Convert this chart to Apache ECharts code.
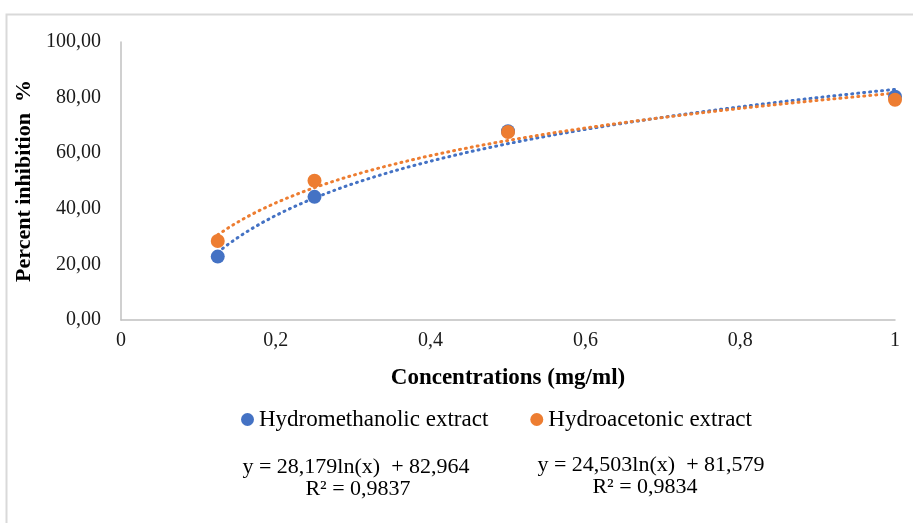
<!DOCTYPE html>
<html>
<head>
<meta charset="utf-8">
<script src="https://cdn.jsdelivr.net/npm/echarts@6/dist/echarts.min.js"></script>
<style>
  html, body { margin: 0; padding: 0; background: #fff; }
  #main { width: 913px; height: 523px; }
</style>
</head>
<body>
<div id="main"></div>
<script>
// concentrations (mg/ml)
var concentrations = [0.125, 0.25, 0.5, 1];
var hydromethanolic = [22.8, 44.3, 67.9, 80.3];
var hydroacetonic = [28.4, 50.1, 67.6, 79.2];

// log trendline coefficients printed under the chart: y = a*ln(x) + b
var trendA = [28.179, 24.503];
var trendB = [82.964, 81.579];
var equations = ['y = 28,179ln(x)  + 82,964', 'y = 24,503ln(x)  + 81,579'];
var rSquared = ['R² = 0,9837', 'R² = 0,9834'];

var seriesNames = ['Hydromethanolic extract', 'Hydroacetonic extract'];
var colors = ['#4472C4', '#ED7D31'];

function trendPoints(a, b) {
    var pts = [];
    var x0 = concentrations[0], x1 = concentrations[concentrations.length - 1];
    for (var i = 0; i <= 60; i++) {
        var x = x0 + (x1 - x0) * i / 60;
        pts.push([x, a * Math.log(x) + b]);
    }
    return pts;
}

function pairs(ys) {
    return concentrations.map(function (x, i) { return [x, ys[i]]; });
}

var myChart = echarts.init(document.getElementById('main'));

var serifFont = '"Liberation Serif", "Times New Roman", serif';

var option = {
    animation: false,
    color: colors,
    textStyle: { fontFamily: serifFont },
    grid: { left: 121, right: 18, top: 42, bottom: 203 },
    legend: {
        data: seriesNames,
        left: 236,
        top: 403,
        icon: 'circle',
        itemWidth: 13,
        itemHeight: 13,
        itemGap: 42,
        textStyle: { fontFamily: serifFont, fontSize: 23, color: '#000' }
    },
    xAxis: {
        type: 'value',
        min: 0,
        max: 1,
        interval: 0.2,
        name: 'Concentrations (mg/ml)',
        nameLocation: 'middle',
        nameGap: 47,
        nameTextStyle: { fontFamily: serifFont, fontSize: 23, fontWeight: 'bold', color: '#000' },
        axisLine: { lineStyle: { color: '#c0c0c0', width: 1.5 } },
        axisTick: { show: false },
        splitLine: { show: false },
        axisLabel: {
            fontSize: 20,
            color: '#1a1a1a',
            margin: 11,
            formatter: function (v) { return String(Math.round(v * 10) / 10).replace('.', ','); }
        }
    },
    yAxis: {
        type: 'value',
        min: 0,
        max: 100,
        interval: 20,
        name: 'Percent inhibition  %',
        nameLocation: 'middle',
        nameGap: 78,
        nameRotate: 90,
        nameTextStyle: { fontFamily: serifFont, fontSize: 22, fontWeight: 'bold', color: '#000' },
        axisLine: { show: true, lineStyle: { color: '#c0c0c0', width: 1.5 } },
        axisTick: { show: false },
        splitLine: { show: false },
        axisLabel: {
            fontSize: 20,
            color: '#1a1a1a',
            margin: 20,
            formatter: function (v) { return v.toFixed(2).replace('.', ','); }
        }
    },
    graphic: [
        {
            type: 'rect',
            shape: { x: 6.5, y: 14.5, width: 1000, height: 600 },
            style: { fill: 'none', stroke: '#d9d9d9', lineWidth: 2 },
            silent: true
        },
        { type: 'text', x: 356, y: 467, style: { text: equations[0], font: '22px ' + serifFont, fill: '#000', align: 'center', verticalAlign: 'middle' } },
        { type: 'text', x: 358, y: 489, style: { text: rSquared[0], font: '22px ' + serifFont, fill: '#000', align: 'center', verticalAlign: 'middle' } },
        { type: 'text', x: 651, y: 465, style: { text: equations[1], font: '22px ' + serifFont, fill: '#000', align: 'center', verticalAlign: 'middle' } },
        { type: 'text', x: 645, y: 487, style: { text: rSquared[1], font: '22px ' + serifFont, fill: '#000', align: 'center', verticalAlign: 'middle' } }
    ],
    series: [
        {
            name: 'trend0',
            type: 'line',
            data: trendPoints(trendA[0], trendB[0]),
            showSymbol: false,
            silent: true,
            lineStyle: { color: colors[0], width: 3, type: [1, 5], cap: 'round' },
            z: 2
        },
        {
            name: 'trend1',
            type: 'line',
            data: trendPoints(trendA[1], trendB[1]),
            showSymbol: false,
            silent: true,
            lineStyle: { color: colors[1], width: 3, type: [1, 5], cap: 'round' },
            z: 2
        },
        {
            name: seriesNames[0],
            type: 'scatter',
            data: pairs(hydromethanolic),
            symbolSize: 14,
            itemStyle: { color: colors[0], opacity: 1 },
            z: 3
        },
        {
            name: seriesNames[1],
            type: 'scatter',
            data: pairs(hydroacetonic),
            symbolSize: 14,
            itemStyle: { color: colors[1], opacity: 1 },
            z: 4
        }
    ]
};

myChart.setOption(option);
</script>
</body>
</html>
